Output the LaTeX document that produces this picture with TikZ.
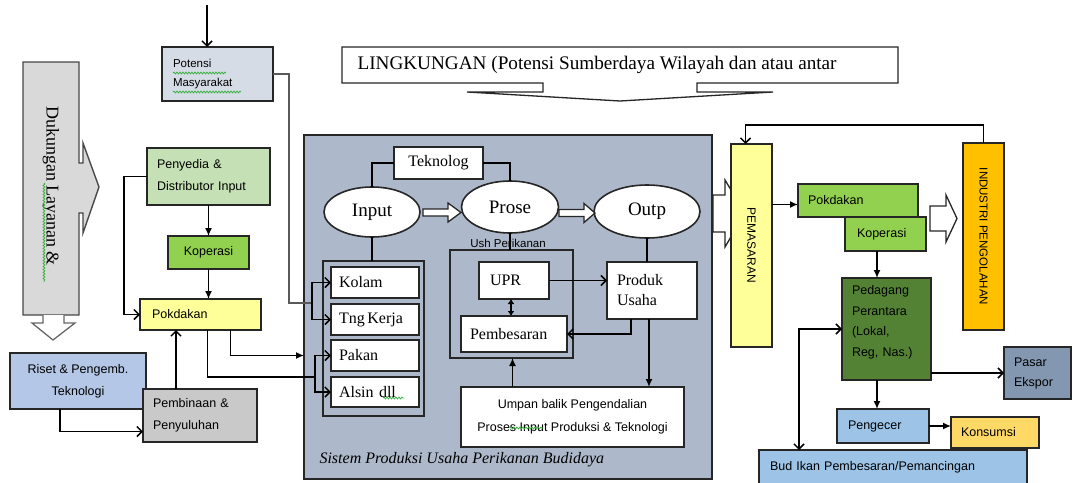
\documentclass[tikz,border=0pt]{standalone}
\usepackage{graphicx}
\usepackage{fontspec}
\setmainfont{Liberation Sans}
\newfontfamily\rmface{Liberation Serif}
\usetikzlibrary{arrows.meta,calc,shapes.geometric,decorations.pathmorphing}
\definecolor{potfill}{HTML}{D6DCE5}
\definecolor{dukfill}{HTML}{D9D9D9}
\definecolor{penfill}{HTML}{C5E0B4}
\definecolor{kopfill}{HTML}{92D050}
\definecolor{yelfill}{HTML}{FFFF99}
\definecolor{risfill}{HTML}{B4C7E7}
\definecolor{pemfill}{HTML}{C9C9C9}
\definecolor{sysfill}{HTML}{ADB9CA}
\definecolor{indfill}{HTML}{FFC000}
\definecolor{pedfill}{HTML}{548235}
\definecolor{pasfill}{HTML}{8497B0}
\definecolor{blufill}{HTML}{9DC3E6}
\definecolor{konfill}{HTML}{FFD966}
\definecolor{edge}{HTML}{262626}
\definecolor{spell}{HTML}{3CB043}
% box from corner (x1,y1) to corner (x2,y2), in pixel-like units
\newcommand\placebox[6][]{\node[box,#1,minimum width={(#5)-(#3)},minimum height={(#6)-(#4)}] (#2) at ({((#3)+(#5))/2},{((#4)+(#6))/2})}
\begin{document}
\begin{tikzpicture}[x=1pt,y=-1pt,
  box/.style={draw=edge,line width=1.6pt,inner sep=0pt,outer sep=0pt},
  sf/.style={font=\fontsize{12.5}{22}\selectfont},
  rmf/.style={font=\rmface\fontsize{16}{20}\selectfont},
  conn/.style={draw=black,line width=1.5pt},
  fa/.style={conn,-{Latex[length=8pt,width=7pt]}},
  oa/.style={conn,-{Straight Barb[length=5pt,width=10pt]}},
  blk/.style={draw=edge,line width=1.3pt,fill=white,line join=miter},
  squig/.style={draw=spell,line width=0.8pt,decorate,decoration={snake,amplitude=0.9pt,segment length=3pt}}
]
\useasboundingbox (0,0) rectangle (1076,482);

% ---------------- left column ----------------
\draw[draw=edge!85,line width=1.4pt,fill=dukfill,line join=miter]
  (23,62) -- (79,62) -- (79,163) -- (83,163) -- (83,143) -- (99,187) -- (83,233)
  -- (83,213) -- (79,213) -- (79,315) -- (23,315) -- cycle;
\node[font=\rmface\fontsize{18}{20}\selectfont] (duk) at (51,186) {\rotatebox{-90}{Dukungan Layanan \&}};
\draw[blk,draw=edge!70] (43,315) -- (43,323) -- (32,323) -- (53,340) -- (75,323) -- (64,323) -- (64,315);

\coordinate (topsrc) at (207,5);
\placebox[fill=potfill,font=\fontsize{11.5}{19}\selectfont,align=left,text width=89pt]{pot}{162}{47}{273}{101}{Potensi\\Masyarakat};
\draw[oa] (topsrc) -- (topsrc |- pot.north);

\placebox[fill=penfill,sf,align=left,text width=103pt]{pen}{147}{148}{270}{205}{Penyedia \&\\Distributor Input};
\placebox[fill=kopfill,sf]{kopL}{168}{236}{249}{269}{Koperasi};
\placebox[fill=yelfill,sf,align=left,text width=97pt]{pokL}{140}{299}{261}{330}{Pokdakan};
\placebox[fill=risfill,sf,align=center]{riset}{10}{353}{146}{409}{Riset \& Pengemb.\\Teknologi};
\placebox[fill=pemfill,sf,align=left,text width=94pt]{pemb}{143}{389}{257}{442}{Pembinaan \&\\Penyuluhan};

\draw[fa] (pen.south) -- (kopL.north);
\draw[fa] (kopL.south) -- (kopL.south |- pokL.north);
\draw[oa] (pen.west) -- ++(-23,0) |- (pokL.west);
\coordinate (pembtop) at ($(pemb.north)+(-24,0)$);
\draw[oa] (pembtop) -- (pembtop |- pokL.south);
\coordinate (risbot) at ($(riset.south)+(-18,0)$);
\draw[oa] (risbot) |- ($(pemb.west)+(0,16)$);

% ---------------- production system ----------------
\placebox[fill=sysfill]{sys}{304}{135}{712}{479}{};
\node[font=\rmface\itshape\fontsize{16}{17}\selectfont,anchor=base west] (syslbl) at (316,463) {Sistem Produksi Usaha Perikanan Budidaya};

\placebox[fill=white,rmf]{tek}{394}{147}{483}{179}{Teknolog};
\node[ellipse,box,fill=white,minimum width=96pt,minimum height=50pt,font=\rmface\fontsize{19}{20}\selectfont] (inp) at (372,212) {Input};
\node[ellipse,box,fill=white,minimum width=97pt,minimum height=52pt,font=\rmface\fontsize{19}{20}\selectfont] (pros) at (510,207) {Prose};
\node[ellipse,box,fill=white,minimum width=106pt,minimum height=53pt,font=\rmface\fontsize{19}{20}\selectfont] (outp) at (647,211.5) {Outp};
\draw[blk] (423,209) -- (448,209) -- (448,203) -- (461,212.5) -- (448,222) -- (448,216) -- (423,216) -- cycle;
\draw[blk] (559,209.5) -- (584,209.5) -- (584,203.5) -- (595,213) -- (584,222.5) -- (584,216.5) -- (559,216.5) -- cycle;
\draw[conn] (inp.north) |- (tek.west);
\draw[conn] (tek.east) -| (pros.north);

\placebox{kbox}{323}{261}{424}{416}{};
\placebox[fill=white,rmf,align=left,text width=72pt]{kolam}{331}{267}{419}{298}{Kolam};
\placebox[fill=white,rmf,align=left,text width=72pt]{tng}{331}{304}{419}{335}{Tng\,Kerja};
\placebox[fill=white,rmf,align=left,text width=72pt]{pakan}{331}{340}{419}{371}{Pakan};
\placebox[fill=white,rmf,align=left,text width=72pt]{alsin}{331}{377}{419}{407}{Alsin dll};
\draw[conn] (inp.south) -- (inp.south |- kbox.north);

\placebox{ush}{450}{250}{573}{358}{};
\node[font=\fontsize{11.5}{12}\selectfont,anchor=base] (ushlbl) at (508,247) {Ush Perikanan};
\draw[conn] (pros.south) -- (pros.south |- ush.north);
\placebox[fill=white,rmf,align=left,text width=48pt]{upr}{479}{262}{549}{299}{UPR};
\placebox[fill=white,rmf,align=left,text width=88pt]{pbs}{461}{316}{567}{352}{Pembesaran};
\placebox[fill=white,rmf,align=left,text width=70pt]{prod}{607}{262}{697}{319}{Produk\\Usaha};
\placebox[fill=white,sf,align=center,font=\fontsize{12.5}{23}\selectfont]{ump}{461}{387}{684}{447}{Umpan balik Pengendalian\\Proses Input Produksi \& Teknologi};

\draw[conn,{Latex[length=5pt,width=7pt]}-{Latex[length=5pt,width=7pt]}] ($(upr.south)+(-3,0)$) -- ($(pbs.north)+(-3,0)$);
\draw[oa] (upr.east) -- (upr.east -| prod.west);
\draw[conn] (outp.south) -- (outp.south |- prod.north);
\coordinate (prodb1) at ($(prod.south)+(-21,0)$);
\draw[oa] (prodb1) |- (pbs.east);
\coordinate (prodb2) at ($(prod.south)+(-3,0)$);
\draw[fa] (prodb2) -- (prodb2 |- ump.north);
\coordinate (umpt) at ($(ump.north)+(-60,0)$);
\draw[fa] (umpt) -- (umpt |- ush.south);

% inputs entering the system
\coordinate (jA) at (312,303);
\coordinate (jB) at (315,377);
\draw[draw=gray!70!black,line width=2pt] (pot.east) -| ($(jA)+(-23,0)$) -- (jA);
\draw[oa] (jA) |- (kolam.west);
\draw[oa] (jA) |- (tng.west);
\draw[fa] ($(pokL.south)+(30,0)$) |- (sys.west |- pakan.west);
\draw[conn] ($(pokL.south)+(7,0)$) |- (jB);
\draw[oa] (jB) |- (pakan.west);
\draw[oa] (jB) |- (alsin.west);

% ---------------- environment ----------------
\draw[blk] (342,47) -- (898,47) -- (898,83) -- (697,83) -- (697,92) -- (773,92) -- (620,101)
  -- (467,92) -- (543,92) -- (543,83) -- (342,83) -- cycle;
\node[font=\rmface\fontsize{19.2}{20}\selectfont,anchor=base west] (ling) at (354,69) {LINGKUNGAN (Potensi Sumberdaya Wilayah dan atau antar};

% ---------------- marketing chain ----------------
\draw[blk] (713,195) -- (725,195) -- (725,180) -- (745,213) -- (725,247) -- (725,232) -- (713,232) -- cycle;
\placebox[fill=yelfill,font=\fontsize{12}{14}\selectfont]{pem}{731}{144}{772}{347}{\rotatebox{-90}{PEMASARAN}};
\placebox[fill=indfill,font=\fontsize{11.5}{14}\selectfont]{ind}{963}{143}{1004}{330}{\rotatebox{-90}{INDUSTRI PENGOLAHAN}};
\coordinate (pemtop) at ($(pem.north)+(-6,0)$);
\draw[oa] (ind.north) -- ++(0,-18) -| (pemtop);

\placebox[fill=kopfill,sf,align=left,text width=100pt]{pokR}{798}{184}{918}{217}{Pokdakan};
\placebox[fill=kopfill,sf,align=left,text width=57pt]{kopR}{845}{217}{926}{251}{Koperasi};
\draw[blk] (930,206) -- (946,206) -- (946,195) -- (957,218.5) -- (946,242) -- (946,231) -- (930,231) -- cycle;
\coordinate (pokRin) at ($(pokR.west)+(0,4)$);
\draw[fa] (pem.east |- pokRin) -- (pokRin);

\placebox[fill=pedfill,font=\fontsize{12.5}{20.5}\selectfont,align=left,text width=69pt]{ped}{842}{278}{931}{380}{Pedagang\\Perantara\\(Lokal,\\Reg, Nas.)\\[-4pt]\mbox{}};
\coordinate (kopRb) at ($(kopR.south)+(-8.5,0)$);
\draw[fa] (kopRb) -- (kopRb |- ped.north);
\placebox[fill=pasfill,font=\fontsize{12.5}{20}\selectfont,align=left,text width=47pt]{pasar}{1004}{347}{1071}{399}{Pasar\\Ekspor};
\draw[oa] (ped.east |- pasar.west) -- (pasar.west);
\placebox[fill=blufill,sf,align=left,text width=70pt]{peng}{837}{409}{929}{443}{Pengecer};
\coordinate (pedb) at ($(ped.south)+(-9.5,0)$);
\draw[fa] (pedb) -- (pedb |- peng.north);
\placebox[fill=konfill,sf,align=left,text width=68pt]{kons}{951}{417}{1039}{448}{Konsumsi};
\draw[fa] (peng.east) -- (peng.east -| kons.west);
\placebox[fill=blufill,sf,align=left,text width=246pt]{bud}{759}{450}{1027}{484}{Bud Ikan Pembesaran/Pemancingan};
\coordinate (budt) at ($(bud.north)+(-94,0)$);
\draw[conn,{Straight Barb[length=5pt,width=10pt]}-{Straight Barb[length=5pt,width=10pt]}] (ped.west) -| (budt);

% spell-check marks
\draw[squig] (173,73) -- (226,73);
\draw[squig] (173,92) -- (241,92);
\draw[squig] (44,183) -- (44,282);
\draw[squig] (383,398) -- (404,398);
\draw[squig] (510,428) -- (543,428);
\end{tikzpicture}
\end{document}
